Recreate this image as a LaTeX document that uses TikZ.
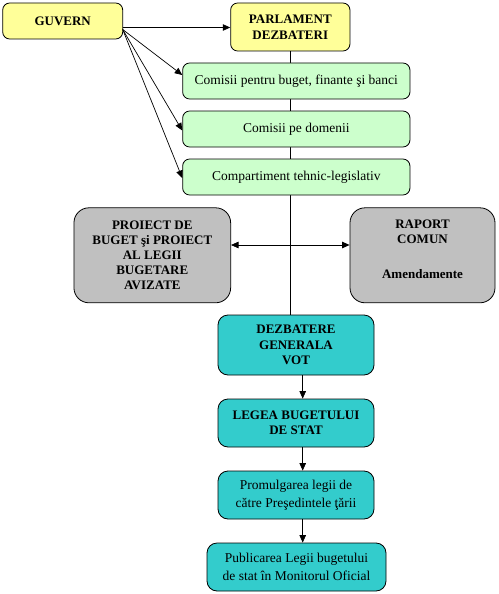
\documentclass[tikz,border=0pt]{standalone}
\usepackage{fontspec}
\setmainfont{Liberation Serif}
\usetikzlibrary{arrows.meta,backgrounds}
\definecolor{cyel}{HTML}{FFFF99}
\definecolor{cgreen}{HTML}{CCFFCC}
\definecolor{cgray}{HTML}{C0C0C0}
\definecolor{ccyan}{HTML}{33CCCC}
\tikzset{
  boxbase/.style={draw=black,line width=0.8pt,rounded corners=7pt,inner sep=0pt,align=center},
  yelbox/.style={boxbase,fill=cyel,font=\fontsize{13}{16.5}\selectfont\bfseries},
  grnbox/.style={boxbase,fill=cgreen,font=\fontsize{13.5}{17}\selectfont},
  graybox/.style={boxbase,fill=cgray,rounded corners=15pt,font=\fontsize{13}{15}\selectfont\bfseries},
  cyanbold/.style={boxbase,fill=ccyan,rounded corners=10pt,font=\fontsize{13}{15.5}\selectfont\bfseries},
  cyannorm/.style={boxbase,fill=ccyan,rounded corners=10pt,font=\fontsize{13.5}{17.5}\selectfont},
  conn/.style={line width=0.7pt,black},
  arr/.style={conn,-{Triangle[length=7.5pt,width=6.5pt]}},
  darr/.style={conn,{Triangle[length=7.5pt,width=6.5pt]}-{Triangle[length=7.5pt,width=6.5pt]}}
}
\begin{document}
\begin{tikzpicture}[x=1pt,y=-1pt]
\useasboundingbox (0,0) rectangle (498,594);
\node[yelbox,minimum width=120pt,minimum height=36pt] (guv) at (62.7,21) {GUVERN};
\node[yelbox,minimum width=119.3pt,minimum height=48pt] (parl) at (290.3,27) {PARLAMENT\\DEZBATERI};
\node[grnbox,minimum width=227.3pt,minimum height=36pt] (com1) at (296.3,81) {Comisii pentru buget, finante şi banci};
\node[grnbox,minimum width=227.3pt,minimum height=36pt] (com2) at (296.3,129) {Comisii pe domenii};
\node[grnbox,minimum width=227.3pt,minimum height=36pt] (com3) at (296.3,177) {Compartiment tehnic-legislativ};
\node[graybox,minimum width=156.7pt,minimum height=95pt] (proi) at (152.3,255.3) {PROIECT DE\\BUGET şi PROIECT\\AL LEGII\\BUGETARE\\AVIZATE};
\node[graybox,minimum width=145pt,minimum height=95pt] (rap) at (422.5,255.3) {};
\node[font=\fontsize{13}{15}\selectfont\bfseries,align=center,inner sep=0pt] (raptxt) at (422.5,249.5) {RAPORT\\COMUN\\[20pt]Amendamente};
\node[cyanbold,minimum width=156pt,minimum height=60pt] (dezb) at (296,345) {DEZBATERE\\GENERALA\\VOT};
\node[cyanbold,minimum width=156pt,minimum height=48pt] (leg) at (296,423) {LEGEA BUGETULUI\\DE STAT};
\node[cyannorm,minimum width=156pt,minimum height=48pt] (prom) at (296,495) {Promulgarea legii de\\către Preşedintele ţării};
\node[cyannorm,minimum width=179pt,minimum height=48pt] (publ) at (296.5,567) {Publicarea Legii bugetului\\de stat în Monitorul Oficial};
\coordinate (g0) at (122.7,27.5);
\coordinate (g1) at (122.7,29.5);
\coordinate (hy) at (290,245);
\coordinate (ax) at (302.7,0);
\begin{scope}[on background layer]
\draw[conn] (parl.south -| hy) -- (dezb.north -| hy);
\end{scope}
\draw[arr] (g0) -- (parl.west |- g0);
\draw[arr] (g1) -- ([yshift=6pt]com1.west);
\draw[arr] (g1) -- ([yshift=-1.5pt]com2.west);
\draw[arr] (g1) -- ([yshift=-1pt]com3.west);
\draw[darr] (proi.east |- hy) -- (rap.west |- hy);
\draw[arr] (dezb.south -| ax) -- (leg.north -| ax);
\draw[arr] (leg.south -| ax) -- (prom.north -| ax);
\draw[arr] (prom.south -| ax) -- (publ.north -| ax);
\end{tikzpicture}
\end{document}
